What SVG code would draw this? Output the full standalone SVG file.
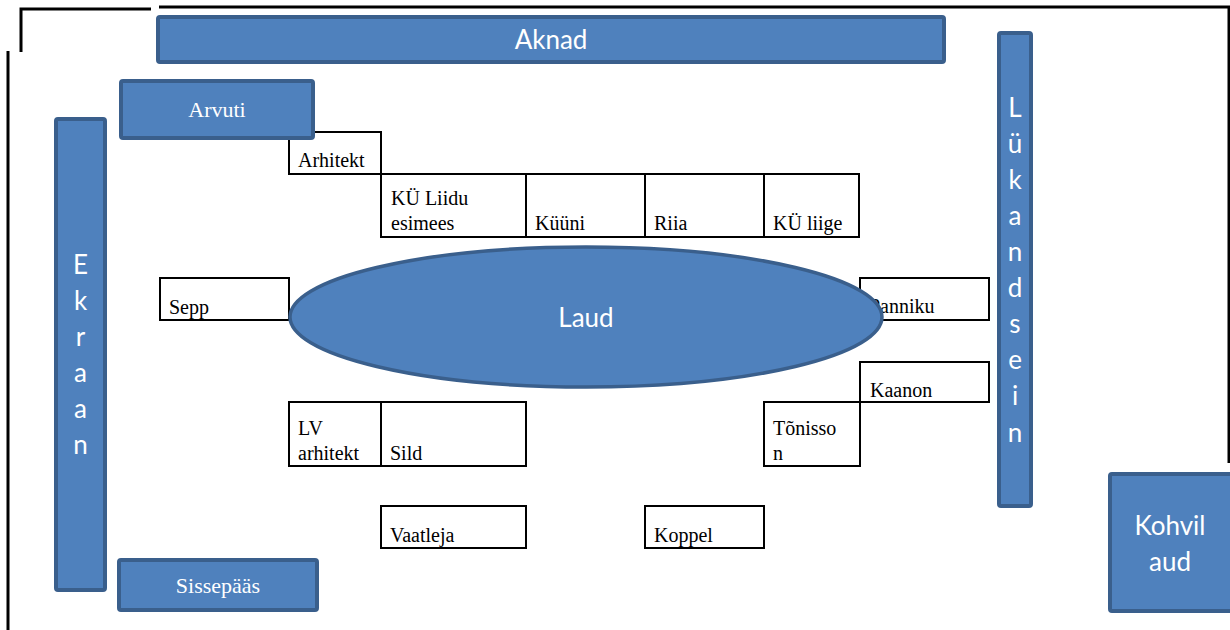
<svg xmlns="http://www.w3.org/2000/svg" width="1230" height="630" viewBox="0 0 1230 630">
<style>
.blue{fill:#4f81bd;stroke:#3a5f8c;stroke-width:4}
.seat{fill:#ffffff;stroke:#000000;stroke-width:2}
.frame{fill:none;stroke:#000000;stroke-width:3}
.lbl{font-family:"Liberation Serif","Times New Roman",serif;font-size:20px;fill:#000000}
.wt{font-family:Lato,"Open Sans","Liberation Sans",sans-serif;font-size:26px;fill:#ffffff;text-anchor:middle}
.ws{font-family:"Liberation Serif","Times New Roman",serif;font-size:22px;fill:#ffffff;text-anchor:middle}
</style>
<rect width="1230" height="630" fill="#ffffff"/>
<g id="frame">
<polyline class="frame" points="21,52 21,9 151,9"/>
<polyline class="frame" points="159,7 1229,7 1229,463"/>
<line class="frame" x1="8" y1="51" x2="8" y2="630"/>
</g>
<g id="connectors"></g>
<g id="aknad"><rect class="blue" x="158" y="17" width="786" height="45" rx="2"/><text class="wt" x="551" y="49">Aknad</text></g>
<g id="arhitekt"><rect class="seat" x="289" y="132" width="92" height="42"/><text class="lbl" x="298" y="167">Arhitekt</text></g>
<g id="arvuti"><rect class="blue" x="121" y="81" width="192" height="57" rx="2"/><text class="ws" x="217" y="117">Arvuti</text></g>
<g id="ekraan"><rect class="blue" x="56" y="119" width="49" height="471" rx="2"/>
<text class="wt" x="80.5" y="274">E</text><text class="wt" x="80.5" y="310">k</text><text class="wt" x="80.5" y="346">r</text><text class="wt" x="80.5" y="382">a</text><text class="wt" x="80.5" y="418">a</text><text class="wt" x="80.5" y="454">n</text></g>
<g id="sissepaas"><rect class="blue" x="119" y="560" width="198" height="50" rx="2"/><text class="ws" x="218" y="593">Sissepääs</text></g>
<g id="lukandsein"><rect class="blue" x="999" y="33" width="32" height="473" rx="2"/>
<text class="wt" x="1015" y="117">L</text><text class="wt" x="1015" y="153">ü</text><text class="wt" x="1015" y="189">k</text><text class="wt" x="1015" y="225">a</text><text class="wt" x="1015" y="261">n</text><text class="wt" x="1015" y="297">d</text><text class="wt" x="1015" y="333">s</text><text class="wt" x="1015" y="369">e</text><text class="wt" x="1015" y="405">i</text><text class="wt" x="1015" y="442">n</text></g>
<g id="kohvilaud"><rect class="blue" x="1110" y="474" width="123" height="137" rx="2"/><text class="wt" x="1170" y="535">Kohvil</text><text class="wt" x="1170" y="571">aud</text></g>
<g id="ku-liidu-esimees"><rect class="seat" x="381" y="174" width="145" height="63"/><text class="lbl" x="391" y="205">KÜ Liidu</text><text class="lbl" x="391" y="230">esimees</text></g>
<g id="kuuni"><rect class="seat" x="526" y="174" width="119" height="63"/><text class="lbl" x="535" y="230">Küüni</text></g>
<g id="riia"><rect class="seat" x="645" y="174" width="119" height="63"/><text class="lbl" x="654" y="230">Riia</text></g>
<g id="ku-liige"><rect class="seat" x="764" y="174" width="95" height="63"/><text class="lbl" x="773" y="230">KÜ liige</text></g>
<g id="sepp"><rect class="seat" x="160" y="278" width="129" height="42"/><text class="lbl" x="169" y="314">Sepp</text></g>
<g id="panniku"><rect class="seat" x="860" y="278" width="129" height="42"/><text class="lbl" x="869" y="313">Panniku</text></g>
<g id="laud"><ellipse cx="586" cy="317" rx="296" ry="70" fill="#4f81bd" stroke="#3a5f8c" stroke-width="3.5"/><text class="wt" x="586" y="327">Laud</text></g>
<g id="kaanon"><rect class="seat" x="860" y="362" width="129" height="40"/><text class="lbl" x="870" y="397">Kaanon</text></g>
<g id="lv-arhitekt"><rect class="seat" x="289" y="402" width="92" height="64"/><text class="lbl" x="298" y="435">LV</text><text class="lbl" x="298" y="460">arhitekt</text></g>
<g id="sild"><rect class="seat" x="381" y="402" width="145" height="64"/><text class="lbl" x="390" y="460">Sild</text></g>
<g id="tonisson"><rect class="seat" x="764" y="402" width="96" height="64"/><text class="lbl" x="773" y="435">Tõnisso</text><text class="lbl" x="773" y="460">n</text></g>
<g id="vaatleja"><rect class="seat" x="381" y="506" width="145" height="42"/><text class="lbl" x="390" y="542">Vaatleja</text></g>
<g id="koppel"><rect class="seat" x="645" y="506" width="119" height="42"/><text class="lbl" x="654" y="542">Koppel</text></g>
</svg>
